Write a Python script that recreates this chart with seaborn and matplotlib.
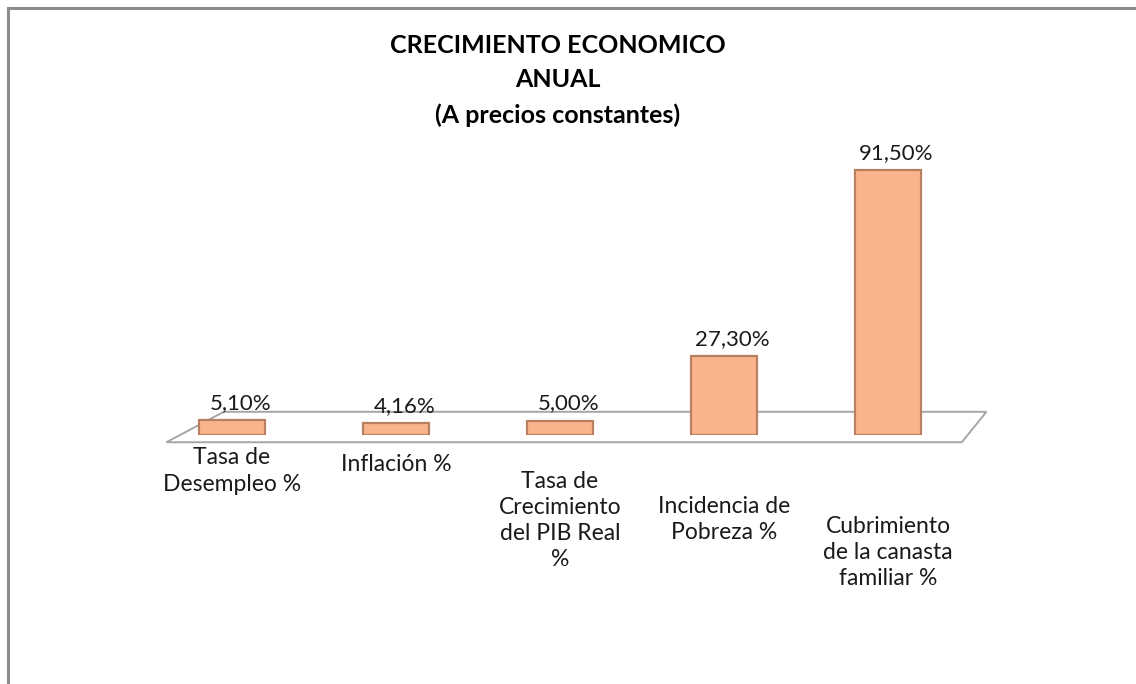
import matplotlib
matplotlib.use("Agg")
import matplotlib.pyplot as plt
from matplotlib.patches import Polygon, Rectangle
import seaborn as sns
import pandas as pd

categories = ["Tasa de\nDesempleo %", "Inflación %", "Tasa de\nCrecimiento\ndel PIB Real\n%",
              "Incidencia de\nPobreza %", "Cubrimiento\nde la canasta\nfamiliar %"]
values = [5.10, 4.16, 5.00, 27.30, 91.50]
value_labels = ["5,10%", "4,16%", "5,00%", "27,30%", "91,50%"]
title = "CRECIMIENTO ECONOMICO\nANUAL\n(A precios constantes)"

sns.set_theme(style="white")
plt.rcParams['font.family'] = ['Lato', 'DejaVu Sans']

df = pd.DataFrame({"cat": categories, "val": values})

W, H = 1136, 684
fig = plt.figure(figsize=(W / 100, H / 100), dpi=100)
fig.patch.set_facecolor("white")

# outer chart frame (top and left visible)
fig.patches.append(Rectangle((8 / W, -0.05), 1.2, (H - 8) / H + 0.05, transform=fig.transFigure,
                             fill=False, edgecolor="#8c8c8c", linewidth=2.2, zorder=0))

ax_left, ax_w = 150, 820
ax_bottom, ax_h = 684 - 435, 290
ax = fig.add_axes([ax_left / W, ax_bottom / H, ax_w / W, ax_h / H])
ax.patch.set_alpha(0)

# floor (decorative plot-area floor)
floor = Polygon([(0.09, 0.08), (1.02, 0.08), (0.99, -0.025), (0.02, -0.025)], closed=True,
                transform=ax.transAxes, facecolor="none", edgecolor="#a6a6a6",
                linewidth=1.4, zorder=0, clip_on=False)
ax.add_patch(floor)

sns.barplot(data=df, x="cat", y="val", ax=ax, color="#F9B48C", saturation=1,
            width=0.40, edgecolor="#B9805F", linewidth=1.6, zorder=3)

for i, (v, lab) in enumerate(zip(values, value_labels)):
    ax.annotate(lab, (i, v), xytext=(6, 5), textcoords="offset points",
                ha="center", va="bottom", fontsize=16, color="#1a1a1a")

ax.set_xlim(-0.5, 4.5)
ax.set_ylim(0, 100)
ax.set_xlabel("")
ax.set_ylabel("")
ax.set_yticks([])
for s in ax.spines.values():
    s.set_visible(False)
ax.tick_params(axis="x", length=0, labelsize=16.5, colors="#1a1a1a")
pads = [9, 14, 26, 44, 58]
for t, p in zip(ax.xaxis.get_major_ticks(), pads):
    t.set_pad(p)
for lbl in ax.get_xticklabels():
    lbl.set_linespacing(1.3)

fig.text(558 / W, 1 - 34 / H, title, ha="center", va="top", fontsize=18,
         fontweight="bold", color="#000000", linespacing=1.6)

fig.savefig("out.png", dpi=100)
